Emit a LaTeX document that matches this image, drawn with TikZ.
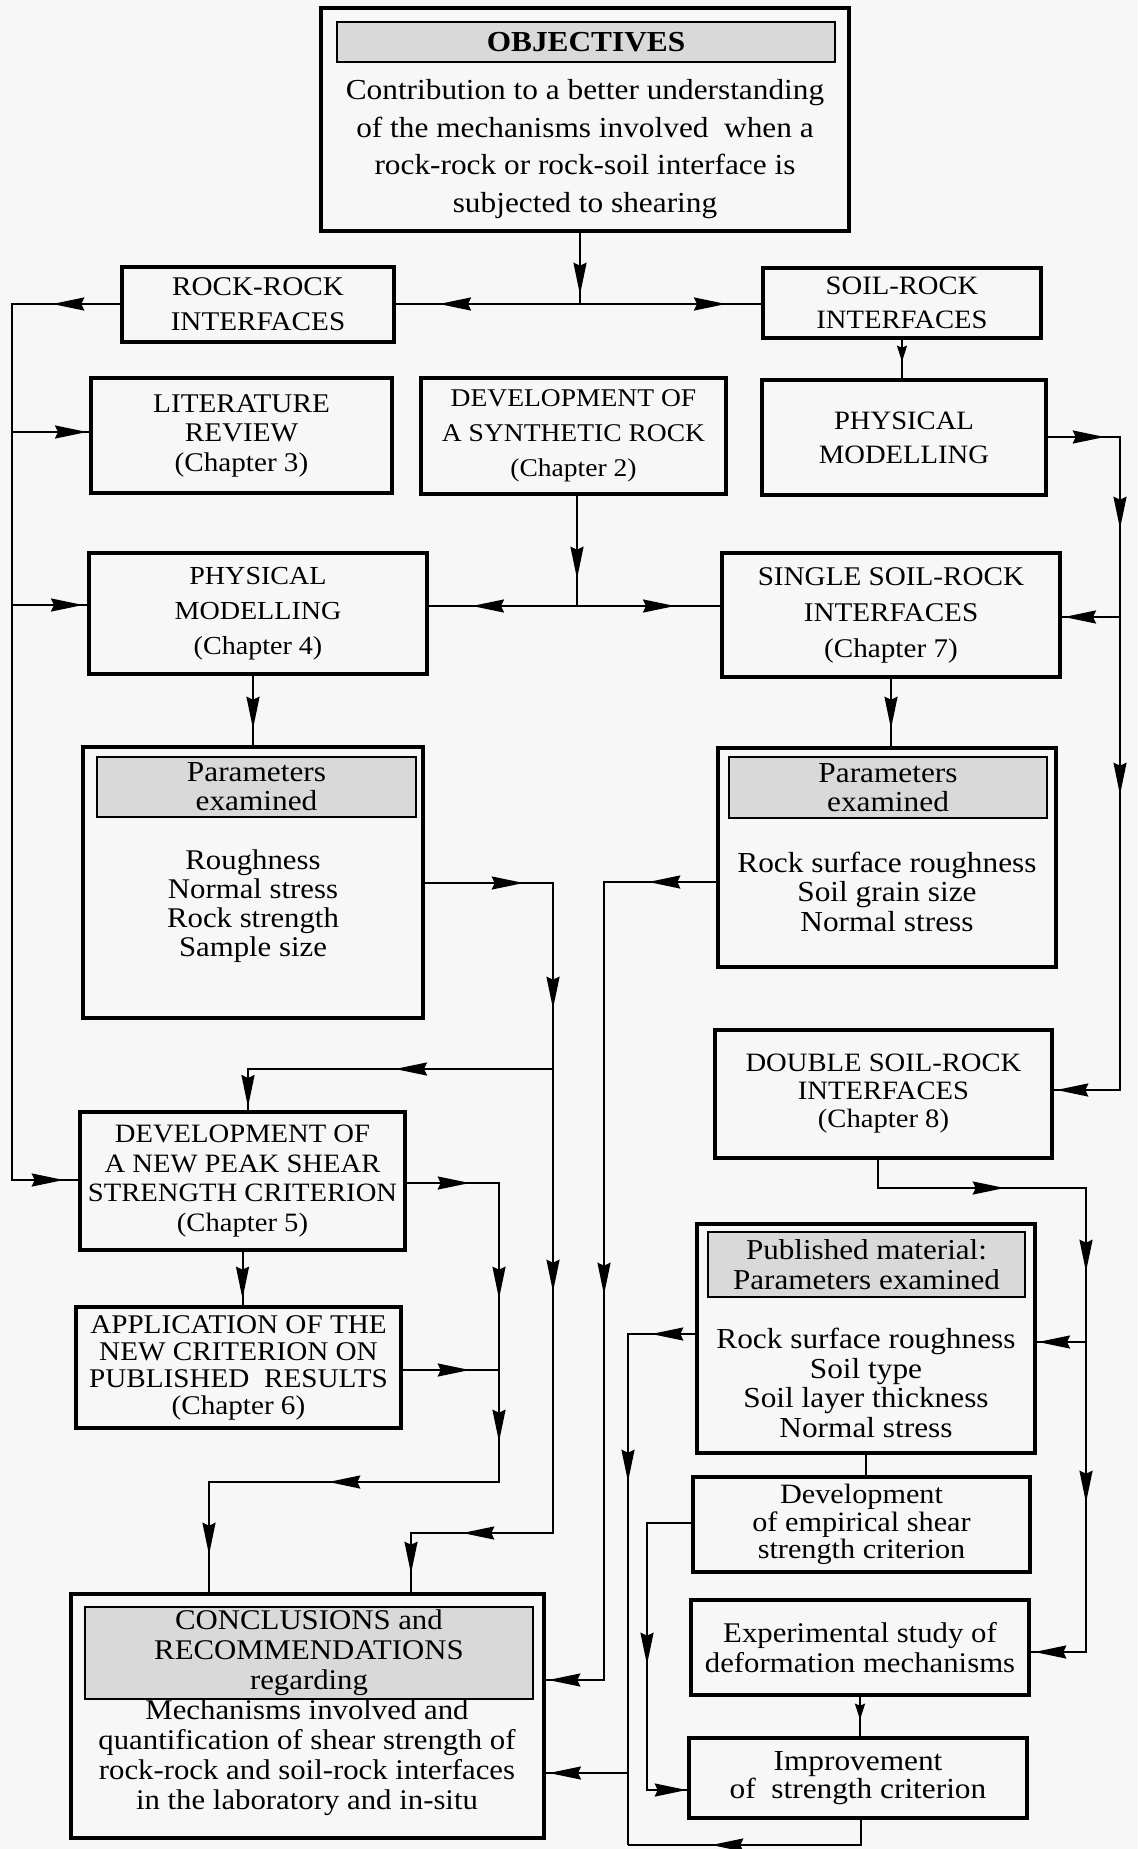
\documentclass[tikz,border=0pt]{standalone}
\usepackage{fontspec}
\setmainfont{Liberation Serif}[FakeStretch=1.08]
\usetikzlibrary{arrows.meta,decorations.markings}
\newcommand\fsz[2]{\fontsize{#1}{#2}\selectfont}
\tikzset{
 bx/.style={draw, line width=3.4pt, inner sep=0pt, align=center},
 hd/.style={draw, line width=2.2pt, fill=black!15, inner sep=0pt, align=center},
 tx/.style={inner sep=0pt, align=center},
 ln/.style={line width=2pt},
 ma/.style={postaction={decorate, decoration={markings, mark=at position #1 with {\arrow{Stealth[length=32pt,width=13pt,inset=3pt]}}}}},
 ms/.style={postaction={decorate, decoration={markings, mark=at position #1 with {\arrow{Stealth[length=16pt,width=10pt,inset=2pt]}}}}},
}
\begin{document}
\begin{tikzpicture}[x=1pt,y=-1pt]
\fill[black!3] (0,0) rectangle (1138,1849);
\useasboundingbox (0,0) rectangle (1138,1849);

% ---------- boxes ----------
\node[bx, minimum width=528pt, minimum height=223pt] (obj) at (585,119.5) {};
\node[hd, minimum width=498pt, minimum height=40pt, font=\bfseries\fsz{29}{30}] (objh) at (586,42) {OBJECTIVES};
\node[tx, font=\fsz{29}{37.5}] (objt) at (585,149) {Contribution to a better understanding\\of the mechanisms involved~ when a\\rock-rock or rock-soil interface is\\subjected to shearing};

\node[bx, minimum width=272pt, minimum height=75pt, font=\fsz{27}{35}] (rr) at (258,304.5) {ROCK-ROCK\\INTERFACES};
\node[bx, minimum width=278pt, minimum height=70pt, font=\fsz{26.5}{34}] (sr) at (902,303) {SOIL-ROCK\\INTERFACES};

\node[bx, minimum width=301pt, minimum height=115pt, font=\fsz{27}{29.5}] (lit) at (241.5,435.5) {LITERATURE\\REVIEW\\(Chapter 3)};
\node[bx, minimum width=305pt, minimum height=116pt, font=\fsz{25.5}{35}] (syn) at (573.5,436) {DEVELOPMENT OF\\A SYNTHETIC ROCK\\(Chapter 2)};
\node[bx, minimum width=284pt, minimum height=115pt, font=\fsz{26.5}{34}] (pmr) at (904,437.5) {PHYSICAL\\MODELLING};

\node[bx, minimum width=338pt, minimum height=121pt, font=\fsz{26}{35}] (pm4) at (258,613.5) {PHYSICAL\\MODELLING\\(Chapter 4)};
\node[bx, minimum width=338pt, minimum height=124pt, font=\fsz{27}{36}] (ss7) at (891,615) {SINGLE SOIL-ROCK\\INTERFACES\\(Chapter 7)};

\node[bx, minimum width=340pt, minimum height=271pt] (parL) at (253,882.5) {};
\node[hd, minimum width=319pt, minimum height=60pt, font=\fsz{29}{29}] (parLh) at (256.5,787) {Parameters\\examined};
\node[tx, font=\fsz{28.5}{29}] (parLt) at (253,906.5) {Roughness\\Normal stress\\Rock strength\\Sample size};

\node[bx, minimum width=338pt, minimum height=219pt] (parR) at (887,857.5) {};
\node[hd, minimum width=318pt, minimum height=61pt, font=\fsz{29}{29}] (parRh) at (888,787.5) {Parameters\\examined};
\node[tx, font=\fsz{29}{29.5}] (parRt) at (887,891.5) {Rock surface roughness\\Soil grain size\\Normal stress};

\node[bx, minimum width=337pt, minimum height=128pt, font=\fsz{26.5}{28}] (ds8) at (883.5,1094) {DOUBLE SOIL-ROCK\\INTERFACES\\(Chapter 8)};

\node[bx, minimum width=325pt, minimum height=138pt, font=\fsz{26.5}{29.5}] (ch5) at (242.5,1181) {DEVELOPMENT OF\\A NEW PEAK SHEAR\\STRENGTH CRITERION\\(Chapter 5)};
\node[bx, minimum width=325pt, minimum height=121pt, font=\fsz{27}{27}] (ch6) at (238.5,1367.5) {APPLICATION OF THE\\NEW CRITERION ON\\PUBLISHED~ RESULTS\\(Chapter 6)};

\node[bx, minimum width=338pt, minimum height=229pt] (pub) at (866,1338.5) {};
\node[hd, minimum width=317pt, minimum height=65pt, font=\fsz{28.8}{30}] (pubh) at (866.5,1264.5) {Published material:\\Parameters examined};
\node[tx, font=\fsz{29}{29.5}] (pubt) at (866,1383) {Rock surface roughness\\Soil type\\Soil layer thickness\\Normal stress};

\node[bx, minimum width=337pt, minimum height=95pt, font=\fsz{28}{27.5}] (dev) at (861.5,1524.5) {Development\\of empirical shear\\strength criterion};
\node[bx, minimum width=338pt, minimum height=95pt, font=\fsz{28.5}{30}] (exp) at (860,1647.5) {Experimental study of\\deformation mechanisms};
\node[bx, minimum width=338pt, minimum height=80pt, font=\fsz{29}{28}] (imp) at (858,1778) {Improvement\\of~ strength criterion};

\node[bx, minimum width=473pt, minimum height=244pt] (con) at (307.5,1716) {};
\node[hd, minimum width=448pt, minimum height=92pt, font=\fsz{28.5}{30}] (conh) at (309,1653) {CONCLUSIONS and\\RECOMMENDATIONS\\regarding};
\node[tx, font=\fsz{28.5}{30}] (cont) at (307,1757.5) {Mechanisms involved and\\quantification of shear strength of\\rock-rock and soil-rock interfaces\\in the laboratory and in-situ};

% ---------- junction coordinates ----------
\coordinate (j1) at (580,304);
\coordinate (L1) at (12,304);
\coordinate (L2) at (12,432);
\coordinate (L3) at (12,605);
\coordinate (Lc5) at (12,1180);
\coordinate (R1) at (1120,437);
\coordinate (R2) at (1120,1090);
\coordinate (R3) at (1120,617);
\coordinate (j2) at (577,606);
\coordinate (A1) at (553,883);
\coordinate (A2) at (553,1533);
\coordinate (A3) at (411,1533);
\coordinate (A4) at (553,1069);
\coordinate (A5) at (248,1069);
\coordinate (B1) at (604,882);
\coordinate (B2) at (604,1680);
\coordinate (D1) at (499,1183);
\coordinate (D2) at (499,1482);
\coordinate (D3) at (209,1482);
\coordinate (D4) at (499,1370);
\coordinate (E1) at (878,1188);
\coordinate (E2) at (1086,1188);
\coordinate (E3) at (1086,1652);
\coordinate (E4) at (1086,1342);
\coordinate (F1) at (628,1334);
\coordinate (F2) at (628,1845);
\coordinate (F3) at (628,1773);
\coordinate (F4) at (861,1845);
\coordinate (G1) at (647,1523);
\coordinate (G2) at (647,1790);

% ---------- connectors ----------
\draw[ln, ma=62pt] (j1 |- obj.south) -- (j1);
\draw[ln, ma=141pt] (j1) -- (rr.east |- j1);
\draw[ln, ma=146pt] (j1) -- (sr.west |- j1);

\draw[ln, ma=68pt, ma=1036pt] (rr.west |- L1) -- (L1) -- (Lc5) -- (Lc5 -| ch5.west);
\draw[ln, ma=75pt] (L2) -- (L2 -| lit.west);
\draw[ln, ma=71pt] (L3) -- (L3 -| pm4.west);

\draw[ln, ms=22pt] (sr.south) -- (sr.south |- pmr.north);

\draw[ln, ma=57pt, ma=164pt, ma=430pt, ma=789pt] (pmr.east |- R1) -- (R1) -- (R2) -- (R2 -| ds8.east);
\draw[ln, ma=56pt] (R3) -- (R3 -| ss7.east);

\draw[ln, ma=83pt] (syn.south -| j2) -- (j2);
\draw[ln, ma=105pt] (j2) -- (j2 -| pm4.east);
\draw[ln, ma=98pt] (j2) -- (j2 -| ss7.west);

\draw[ln, ma=53pt] (parL.north |- pm4.south) -- (parL.north);
\draw[ln, ma=50pt] (ss7.south) -- (ss7.south |- parR.north);

\draw[ln, ma=99pt, ma=254pt, ma=537pt, ma=869pt, ma=961pt] (parL.east |- A1) -- (A1) -- (A2) -- (A3) -- (A3 |- con.north);
\draw[ln, ma=158pt, ma=343pt] (A4) -- (A5) -- (A5 |- ch5.north);

\draw[ln, ma=68pt, ma=525pt, ma=966pt] (parR.west |- B1) -- (B1) -- (B2) -- (B2 -| con.east);

\draw[ln, ma=63pt, ma=208pt, ma=351pt, ma=562pt, ma=754pt] (ch5.east |- D1) -- (D1) -- (D2) -- (D3) -- (D3 |- con.north);
\draw[ln, ma=47pt] (ch5.south) -- (ch5.south |- ch6.north);
\draw[ln, ma=67pt] (ch6.east |- D4) -- (D4);

\draw[ln, ma=155pt, ma=320pt, ma=551pt, ma=752pt] (ds8.south -| E1) -- (E1) -- (E2) -- (E3) -- (E3 -| exp.east);
\draw[ln, ma=48pt] (E4) -- (E4 -| pub.east);

\draw[ln, ma=44pt, ma=215pt] (pub.west |- F1) -- (F1) -- (F2);
\draw[ln, ma=79pt] (F3) -- (F3 -| con.east);
\draw[ln, ma=175pt] (imp.south -| F4) -- (F4) -- (F2);

\draw[ln, ms=22pt] (pub.south) -- (pub.south |- dev.north);
\draw[ln, ma=186pt, ma=351pt] (dev.west |- G1) -- (G1) -- (G2) -- (G2 -| imp.west);
\draw[ln, ms=23pt] (exp.south) -- (exp.south |- imp.north);
\end{tikzpicture}
\end{document}
